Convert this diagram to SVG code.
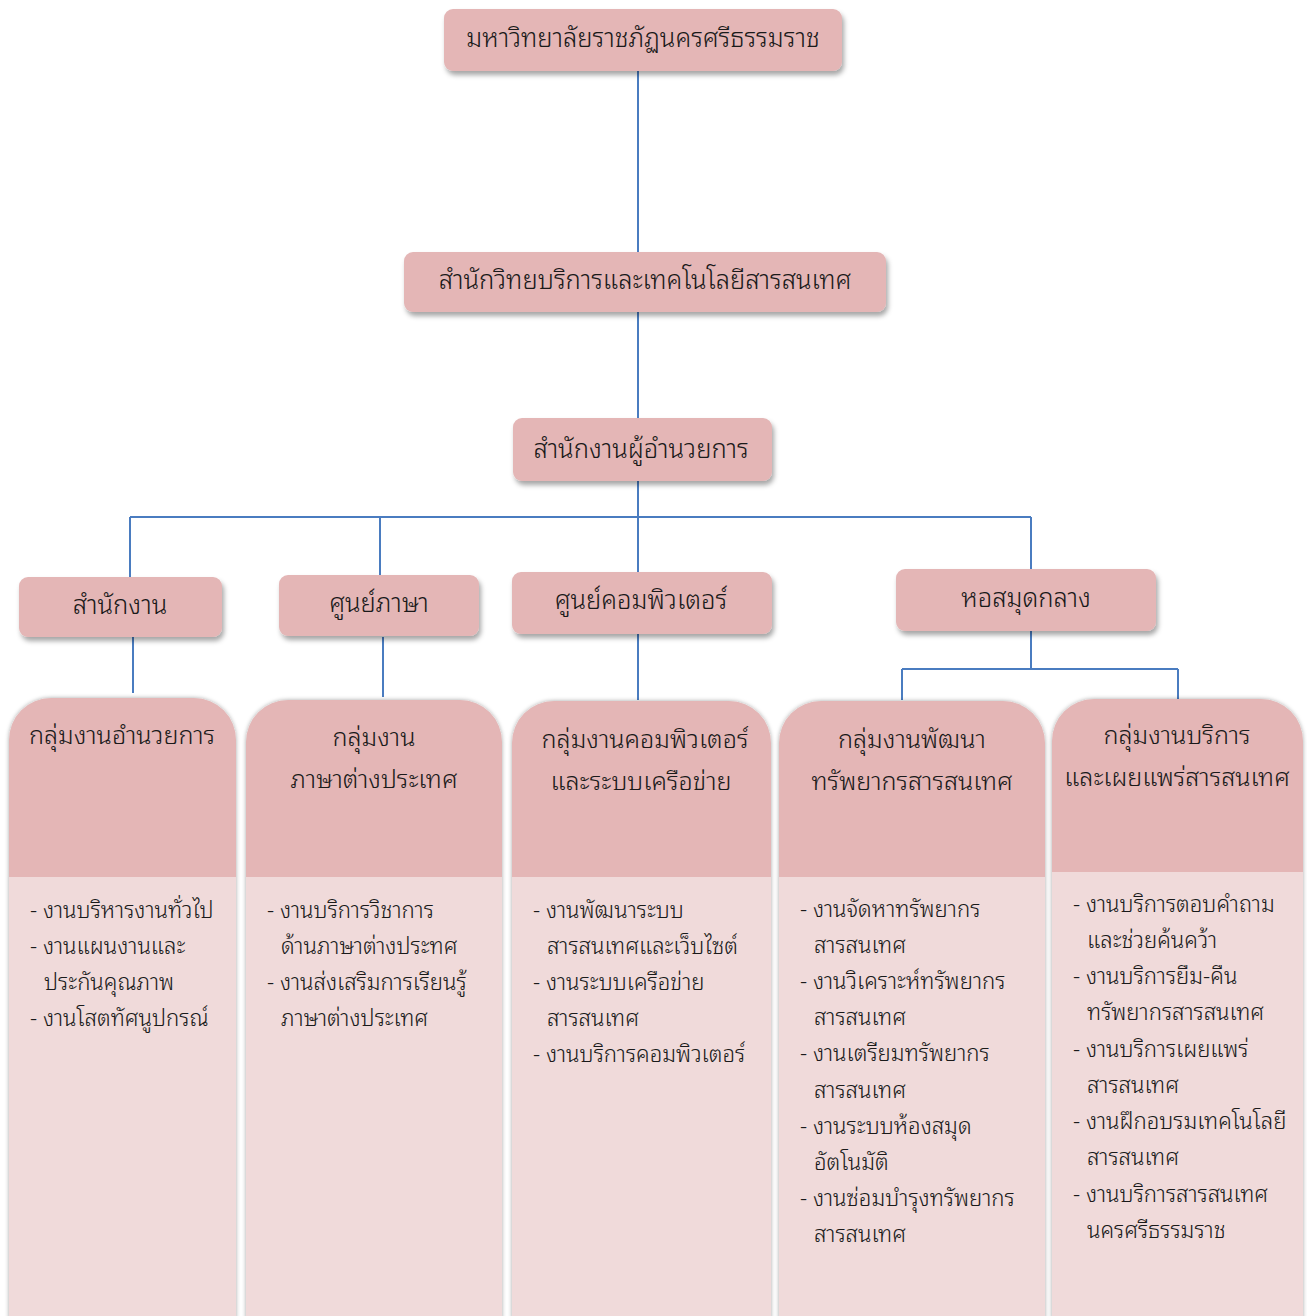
<svg xmlns="http://www.w3.org/2000/svg" width="1307" height="1316" viewBox="0 0 1307 1316">
<defs>
<filter id="sh" x="-10%" y="-20%" width="125%" height="150%">
<feDropShadow dx="2" dy="4" stdDeviation="2.5" flood-color="#000" flood-opacity="0.35"/>
</filter>
<filter id="csh" x="-5%" y="-5%" width="110%" height="110%">
<feDropShadow dx="0" dy="0" stdDeviation="2" flood-color="#000" flood-opacity="0.35"/>
</filter>
<style>
.box{fill:#e4b6b6;filter:url(#sh)}
.hd{fill:#e4b6b6}
.bd{fill:#f0dada}
.t{font-family:"Noto Sans Thai Looped","Noto Sans Thai","Noto Sans","Liberation Sans",sans-serif;font-weight:300;fill:#1a1a1a;text-anchor:middle}
.b{font-family:"Noto Sans Thai Looped","Noto Sans Thai","Noto Sans","Liberation Sans",sans-serif;font-weight:300;fill:#1a1a1a;font-size:22.2px}
.ln{stroke:#4a7cc0;stroke-width:2;fill:none}
</style>
</defs>
<g id="connectors">
<path class="ln" d="M638,71V252M638,312V418M638,481V700M130,517H1031M130,517V578M380,517V575M1031,517V569M133,637V693M383,637V697M1031,631V669M902,669H1178M902,669V700M1178,669V700"/>
</g>
<g id="n1"><rect class="box" x="444" y="9" width="398" height="62" rx="9"/><text class="t" x="643" y="47" font-size="25.6">มหาวิทยาลัยราชภัฏนครศรีธรรมราช</text></g>
<g id="n2"><rect class="box" x="404" y="252" width="482" height="60" rx="9"/><text class="t" x="645" y="289" font-size="25.6">สำนักวิทยบริการและเทคโนโลยีสารสนเทศ</text></g>
<g id="n3"><rect class="box" x="513" y="418" width="259" height="63" rx="9"/><text class="t" x="641" y="458" font-size="25.6">สำนักงานผู้อำนวยการ</text></g>
<g id="n4"><rect class="box" x="19" y="577" width="203" height="60" rx="9"/><text class="t" x="120" y="614" font-size="25.6">สำนักงาน</text></g>
<g id="n5"><rect class="box" x="279" y="575" width="200" height="61" rx="9"/><text class="t" x="379" y="612" font-size="25.6">ศูนย์ภาษา</text></g>
<g id="n6"><rect class="box" x="512" y="572" width="260" height="62" rx="9"/><text class="t" x="641" y="609" font-size="25.6">ศูนย์คอมพิวเตอร์</text></g>
<g id="n7"><rect class="box" x="896" y="569" width="260" height="62" rx="9"/><text class="t" x="1026" y="607" font-size="25.6">หอสมุดกลาง</text></g>

<g id="c1">
<g filter="url(#csh)"><path class="hd" d="M9,1320V740A42,42 0 0 1 51,698H194A42,42 0 0 1 236,740V1320Z"/></g>
<rect class="bd" x="9" y="877" width="227" height="443"/>
<text class="t" x="122" y="744" font-size="25.2">กลุ่มงานอำนวยการ</text>
<text class="b"><tspan x="30" y="918">- งานบริหารงานทั่วไป</tspan><tspan x="30" y="954">- งานแผนงานและ</tspan><tspan x="44" y="990">ประกันคุณภาพ</tspan><tspan x="30" y="1026">- งานโสตทัศนูปกรณ์</tspan></text>
</g>
<g id="c2">
<g filter="url(#csh)"><path class="hd" d="M246,1320V742A42,42 0 0 1 288,700H460A42,42 0 0 1 502,742V1320Z"/></g>
<rect class="bd" x="246" y="877" width="256" height="443"/>
<text class="t" x="374" y="746" font-size="25.2">กลุ่มงาน</text>
<text class="t" x="374" y="788" font-size="25.2">ภาษาต่างประเทศ</text>
<text class="b"><tspan x="267" y="918">- งานบริการวิชาการ</tspan><tspan x="281" y="954">ด้านภาษาต่างประทศ</tspan><tspan x="267" y="990">- งานส่งเสริมการเรียนรู้</tspan><tspan x="281" y="1026">ภาษาต่างประเทศ</tspan></text>
</g>
<g id="c3">
<g filter="url(#csh)"><path class="hd" d="M512,1320V743A42,42 0 0 1 554,701H729A42,42 0 0 1 771,743V1320Z"/></g>
<rect class="bd" x="512" y="877" width="259" height="443"/>
<text class="t" x="645" y="748" font-size="25.2">กลุ่มงานคอมพิวเตอร์</text>
<text class="t" x="641" y="790" font-size="25.2">และระบบเครือข่าย</text>
<text class="b"><tspan x="533" y="918">- งานพัฒนาระบบ</tspan><tspan x="547" y="954">สารสนเทศและเว็บไซต์</tspan><tspan x="533" y="990">- งานระบบเครือข่าย</tspan><tspan x="547" y="1026">สารสนเทศ</tspan><tspan x="533" y="1062">- งานบริการคอมพิวเตอร์</tspan></text>
</g>
<g id="c4">
<g filter="url(#csh)"><path class="hd" d="M779,1320V743A42,42 0 0 1 821,701H1003A42,42 0 0 1 1045,743V1320Z"/></g>
<rect class="bd" x="779" y="877" width="266" height="443"/>
<text class="t" x="912" y="748" font-size="25.2">กลุ่มงานพัฒนา</text>
<text class="t" x="912" y="790" font-size="25.2">ทรัพยากรสารสนเทศ</text>
<text class="b"><tspan x="800" y="917">- งานจัดหาทรัพยากร</tspan><tspan x="814" y="953">สารสนเทศ</tspan><tspan x="800" y="989">- งานวิเคราะห์ทรัพยากร</tspan><tspan x="814" y="1025">สารสนเทศ</tspan><tspan x="800" y="1061">- งานเตรียมทรัพยากร</tspan><tspan x="814" y="1098">สารสนเทศ</tspan><tspan x="800" y="1134">- งานระบบห้องสมุด</tspan><tspan x="814" y="1170">อัตโนมัติ</tspan><tspan x="800" y="1206">- งานซ่อมบำรุงทรัพยากร</tspan><tspan x="814" y="1242">สารสนเทศ</tspan></text>
</g>
<g id="c5">
<g filter="url(#csh)"><path class="hd" d="M1052,1320V741A42,42 0 0 1 1094,699H1261A42,42 0 0 1 1303,741V1320Z"/></g>
<rect class="bd" x="1052" y="872" width="251" height="448"/>
<text class="t" x="1177" y="744" font-size="25.2">กลุ่มงานบริการ</text>
<text class="t" x="1177" y="786" font-size="25.2">และเผยแพร่สารสนเทศ</text>
<text class="b"><tspan x="1073" y="912">- งานบริการตอบคำถาม</tspan><tspan x="1087" y="948">และช่วยค้นคว้า</tspan><tspan x="1073" y="984">- งานบริการยืม-คืน</tspan><tspan x="1087" y="1020">ทรัพยากรสารสนเทศ</tspan><tspan x="1073" y="1057">- งานบริการเผยแพร่</tspan><tspan x="1087" y="1093">สารสนเทศ</tspan><tspan x="1073" y="1129">- งานฝึกอบรมเทคโนโลยี</tspan><tspan x="1087" y="1165">สารสนเทศ</tspan><tspan x="1073" y="1202">- งานบริการสารสนเทศ</tspan><tspan x="1087" y="1238">นครศรีธรรมราช</tspan></text>
</g>
</svg>
